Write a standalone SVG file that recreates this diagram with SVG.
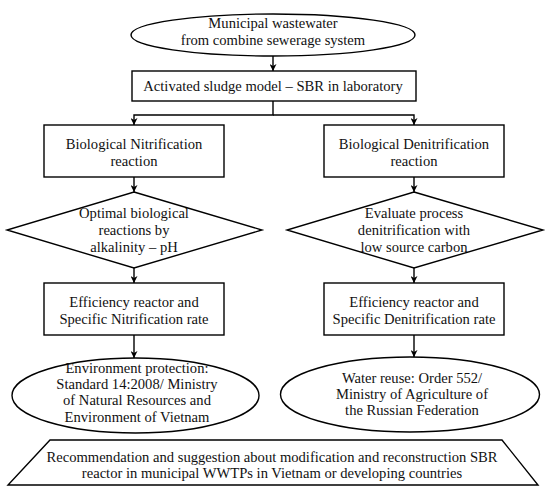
<svg xmlns="http://www.w3.org/2000/svg" width="550" height="492" viewBox="0 0 550 492">
<defs>
<style>
.s{fill:#fff;stroke:#000;stroke-width:1.4}
.c{fill:none;stroke:#000;stroke-width:1.4}
text{font-family:"Liberation Serif","Times New Roman",serif;font-size:14.6px;fill:#111;text-anchor:middle}
</style>
<marker id="a" viewBox="0 0 10 10" refX="10" refY="5" markerWidth="7" markerHeight="7" markerUnits="userSpaceOnUse" orient="auto">
<path d="M0,0 L10,5 L0,10 L3,5 Z" fill="#000"/>
</marker>
</defs>
<rect width="550" height="492" fill="#fff"/>
<g id="connectors">
<path class="c" d="M273,56 V71" marker-end="url(#a)"/>
<path class="c" d="M273,101 V115 H134 V125" marker-end="url(#a)"/>
<path class="c" d="M273,115 H414 V125" marker-end="url(#a)"/>
<path class="c" d="M134,177 V192" marker-end="url(#a)"/>
<path class="c" d="M414,177 V192" marker-end="url(#a)"/>
<path class="c" d="M134,268 V283" marker-end="url(#a)"/>
<path class="c" d="M414,268 V283" marker-end="url(#a)"/>
<path class="c" d="M134,335 V358" marker-end="url(#a)"/>
<path class="c" d="M414,335 V357" marker-end="url(#a)"/>
</g>
<g id="start">
<ellipse class="s" cx="273" cy="35" rx="142" ry="21"/>
<text x="273" y="28">Municipal wastewater</text>
<text x="273" y="45">from combine sewerage system</text>
</g>
<g id="sbr">
<rect class="s" x="132" y="71" width="284" height="30"/>
<text x="273" y="91">Activated sludge model – SBR in laboratory</text>
</g>
<g id="nitrification">
<rect class="s" x="44" y="125" width="180" height="52"/>
<text x="134" y="149">Biological Nitrification</text>
<text x="134" y="166">reaction</text>
</g>
<g id="denitrification">
<rect class="s" x="324" y="125" width="180" height="52"/>
<text x="414" y="149">Biological Denitrification</text>
<text x="414" y="166">reaction</text>
</g>
<g id="optimal">
<polygon class="s" points="134,192 262,230 134,268 7,230"/>
<text x="134" y="218">Optimal biological</text>
<text x="134" y="235">reactions by</text>
<text x="134" y="252">alkalinity – pH</text>
</g>
<g id="evaluate">
<polygon class="s" points="414,192 543,230 414,268 287,230"/>
<text x="414" y="218">Evaluate process</text>
<text x="414" y="235">denitrification with</text>
<text x="414" y="252">low source carbon</text>
</g>
<g id="eff-nit">
<rect class="s" x="44" y="283" width="180" height="52"/>
<text x="134" y="307">Efficiency reactor and</text>
<text x="134" y="324">Specific Nitrification rate</text>
</g>
<g id="eff-denit">
<rect class="s" x="324" y="283" width="180" height="52"/>
<text x="414" y="307">Efficiency reactor and</text>
<text x="414" y="324">Specific Denitrification rate</text>
</g>
<g id="env">
<ellipse class="s" cx="135.5" cy="395.5" rx="123.5" ry="37.5"/>
<text x="137" y="373">Environment protection:</text>
<text x="137" y="389">Standard 14:2008/ Ministry</text>
<text x="137" y="405">of Natural Resources and</text>
<text x="137" y="422">Environment of Vietnam</text>
</g>
<g id="reuse">
<ellipse class="s" cx="410" cy="394.5" rx="129.5" ry="37.5"/>
<text x="412" y="383">Water reuse: Order 552/</text>
<text x="412" y="399">Ministry of Agriculture of</text>
<text x="412" y="415">the Russian Federation</text>
</g>
<g id="recommendation">
<polygon class="s" points="50,440 502,440 538,485 8,485"/>
<text x="272" y="462">Recommendation and suggestion about modification and reconstruction SBR</text>
<text x="272" y="478">reactor in municipal WWTPs in Vietnam or developing countries</text>
</g>
</svg>
